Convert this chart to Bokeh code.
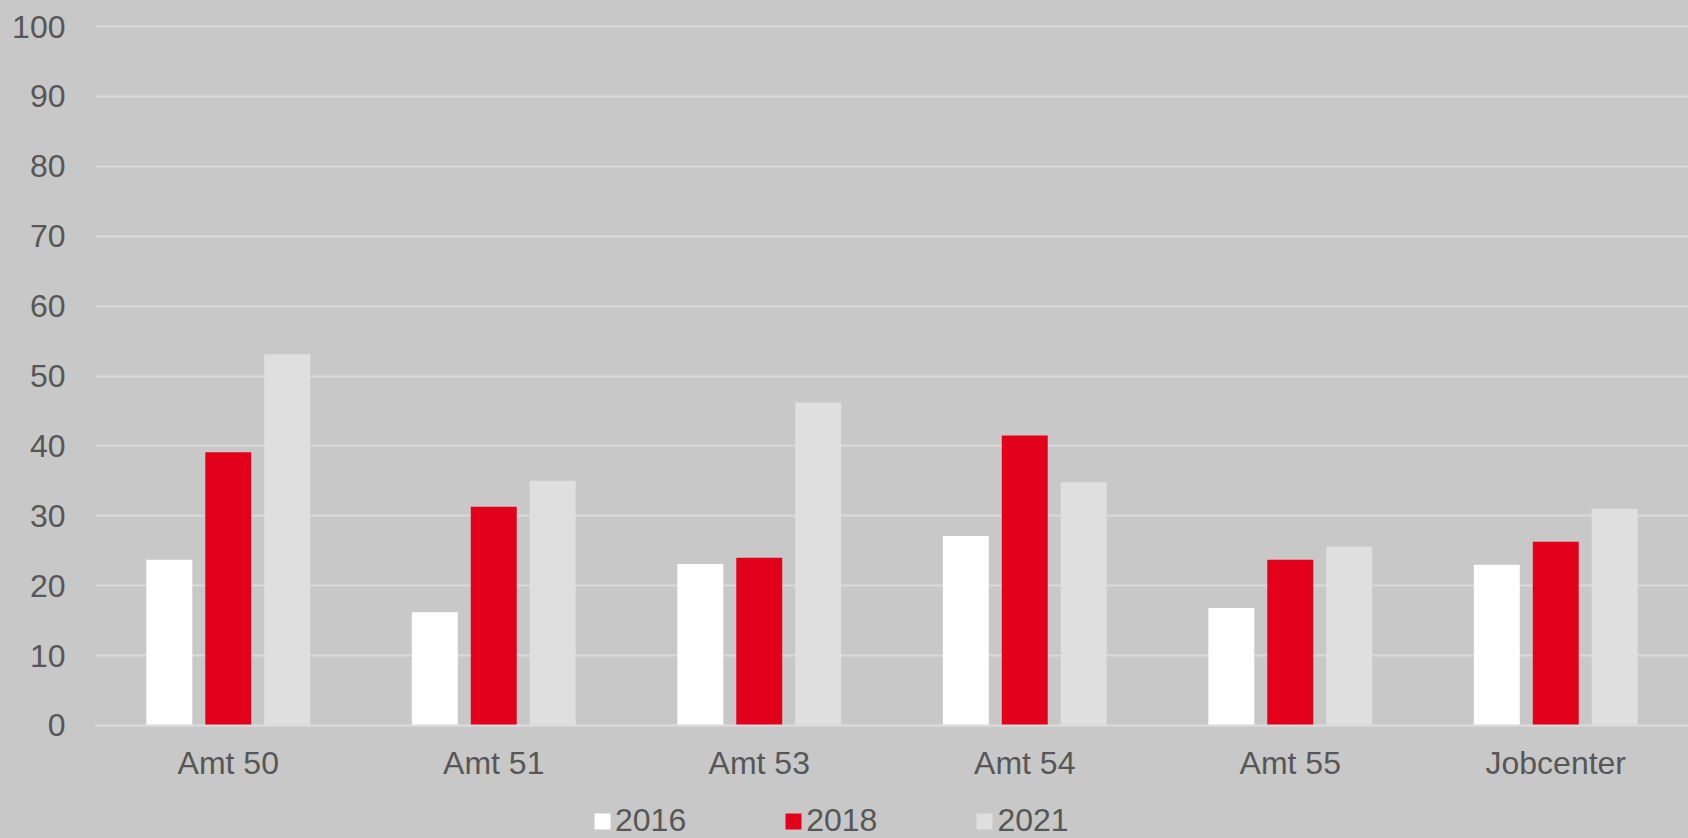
from bokeh.plotting import figure
from bokeh.models import FactorRange, Range1d, ColumnDataSource, Legend, LegendItem, FixedTicker
from bokeh.transform import dodge
from bokeh.embed import file_html
from bokeh.resources import INLINE

categories = ["Amt 50", "Amt 51", "Amt 53", "Amt 54", "Amt 55", "Jobcenter"]
years = ["2016", "2018", "2021"]
v2016 = [23.7, 16.2, 23.1, 27.1, 16.8, 23.0]
v2018 = [39.1, 31.3, 24.0, 41.5, 23.7, 26.3]
v2021 = [53.1, 35.0, 46.2, 34.8, 25.6, 31.0]
y_ticks = [0, 10, 20, 30, 40, 50, 60, 70, 80, 90, 100]

colors = ["#ffffff", "#e2001a", "#dfdfdf"]
BG = "#c8c8c8"
TXT = "#575757"
FONT = "Liberation Sans"

src = ColumnDataSource(dict(cat=categories, y2016=v2016, y2018=v2018, y2021=v2021))

# frame spans the whole lower part so the axis labels and legend sit inside it
p = figure(width=1688, height=838, x_range=FactorRange(*categories, range_padding=0),
           y_range=Range1d(-16.17, 100.29), output_backend="svg", toolbar_location=None,
           min_border_left=95, min_border_top=24, min_border_bottom=0, min_border_right=0)
p.background_fill_color = BG
p.border_fill_color = BG
p.outline_line_color = None

offs = [-0.222, 0.0, 0.222]
cols = ["y2016", "y2018", "y2021"]
rends = []
for off, c, col in zip(offs, cols, colors):
    r = p.vbar(x=dodge("cat", off, range=p.x_range), top=c, width=0.173, bottom=0,
               source=src, fill_color=col, line_color=None)
    rends.append(r)

p.xgrid.grid_line_color = None
p.ygrid.grid_line_color = "#dadada"
p.ygrid.grid_line_width = 2
p.yaxis.ticker = FixedTicker(ticks=y_ticks)

for ax in [p.xaxis[0], p.yaxis[0]]:
    ax.major_tick_line_color = None
    ax.minor_tick_line_color = None
    ax.major_tick_out = 0
    ax.major_tick_in = 0
    ax.minor_tick_out = 0
    ax.minor_tick_in = 0
    ax.major_label_text_font = FONT
    ax.major_label_text_font_size = "32px"
    ax.major_label_text_color = TXT
p.yaxis.axis_line_color = None
p.yaxis.major_label_standoff = 30
p.xaxis.axis_line_color = "#dadada"
p.xaxis.axis_line_width = 2
p.xaxis.major_label_standoff = 20
p.xaxis.fixed_location = 0

legend = Legend(items=[LegendItem(label=y, renderers=[r]) for y, r in zip(years, rends)],
                orientation="horizontal", location=(497, -1),
                background_fill_alpha=0, border_line_color=None,
                glyph_width=20, glyph_height=20, label_standoff=3, spacing=97,
                padding=0, margin=0,
                label_text_font=FONT, label_text_font_size="32px", label_text_color=TXT)
p.add_layout(legend, "center")

html = file_html(p, INLINE)
html = html.replace("</head>", "<style>html, body { background-color: #c8c8c8; }</style></head>", 1)
open("out.html", "w").write(html)
